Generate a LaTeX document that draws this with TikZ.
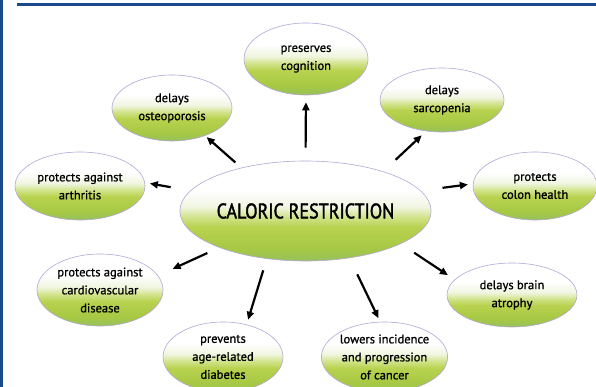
\documentclass[tikz,border=0pt]{standalone}
\usepackage{fontspec}
\setmainfont{PT Sans}
\usepackage{graphicx}
\usepackage{tikz}
\usetikzlibrary{arrows.meta,shapes.geometric}
\definecolor{barblue}{HTML}{1B4A8C}
\definecolor{rimlilac}{HTML}{B4A6D6}
\definecolor{gA}{HTML}{96C25E}
\definecolor{gB}{HTML}{A6C844}
\definecolor{gC}{HTML}{B8D24E}
\definecolor{gD}{HTML}{D2E38C}
\definecolor{gE}{HTML}{F0F5E0}
\pgfdeclareverticalshading{cellshade}{100bp}{color(0bp)=(gA);color(25bp)=(gA);color(31bp)=(gB);color(42bp)=(gC);color(47bp)=(gD);color(52bp)=(gE);color(60bp)=(white);color(75bp)=(white);color(100bp)=(white)}

\begin{document}
\begin{tikzpicture}[x=1pt,y=-1pt,
  cell/.style={ellipse,draw=rimlilac,line width=0.6pt,shade,shading=cellshade,
    align=center,inner sep=0pt,font=\fontsize{12.5}{18}\selectfont\addfontfeature{FakeBold=1}},
  arr/.style={-{Triangle[length=8pt,width=7pt]},line width=2.2pt}]
\useasboundingbox (0,0) rectangle (596,387);
% frame
\fill[barblue] (0,0) rectangle (2.5,387);
\fill[barblue] (17,3.5) rectangle (596,6.5);
% ellipses
\node[cell,minimum width=225pt,minimum height=100pt] (cr) at (305.5,211)
  {\fontsize{21}{24}\selectfont\addfontfeature{FakeBold=2}\scalebox{0.86}[1]{CALORIC RESTRICTION}};
\node[cell,minimum width=124pt,minimum height=72pt] (cog) at (306,59) {preserves\\cognition};
\node[cell,minimum width=120pt,minimum height=66pt] (ost) at (172,108) {delays\\osteoporosis};
\node[cell,minimum width=124pt,minimum height=64pt] (sar) at (442,100) {delays\\sarcopenia};
\node[cell,minimum width=130pt,minimum height=68pt] (art) at (80,186) {protects against\\arthritis};
\node[cell,minimum width=124pt,minimum height=68pt] (col) at (535,186) {protects\\colon health};
\node[cell,minimum width=126pt,minimum height=72pt] (car) at (100,290) {protects against\\cardiovascular\\disease};
\node[cell,minimum width=120pt,minimum height=70pt] (dia) at (223,357) {prevents\\age-related\\diabetes};
\node[cell,minimum width=125pt,minimum height=70pt] (can) at (384.5,357) {lowers incidence\\and progression\\of cancer};
\node[cell,minimum width=130pt,minimum height=64pt] (bra) at (512,295) {delays brain\\atrophy};
% arrows
\draw[arr,shorten <=13pt,shorten >=7pt] (cr.90) -- (cog.-90);
\draw[arr,shorten <=8pt,shorten >=2pt] (cr.146) -- (ost.-40);
\draw[arr,shorten <=17pt,shorten >=6pt] (cr.27) -- (sar.-117);
\draw[arr,shorten <=20pt,shorten >=5pt] (cr.170) -- (art.3);
\draw[arr,shorten <=22pt,shorten >=5pt] (cr.10) -- (col.178);
\draw[arr,shorten <=13pt,shorten >=16pt] (cr.-157) -- (car.14);
\draw[arr,shorten <=12pt,shorten >=5pt] (cr.-129) -- (dia.54);
\draw[arr,shorten <=18pt,shorten >=4pt] (cr.-47) -- (can.97);
\draw[arr,shorten <=16pt,shorten >=8pt] (cr.-19) -- (bra.165);
\end{tikzpicture}
\end{document}
